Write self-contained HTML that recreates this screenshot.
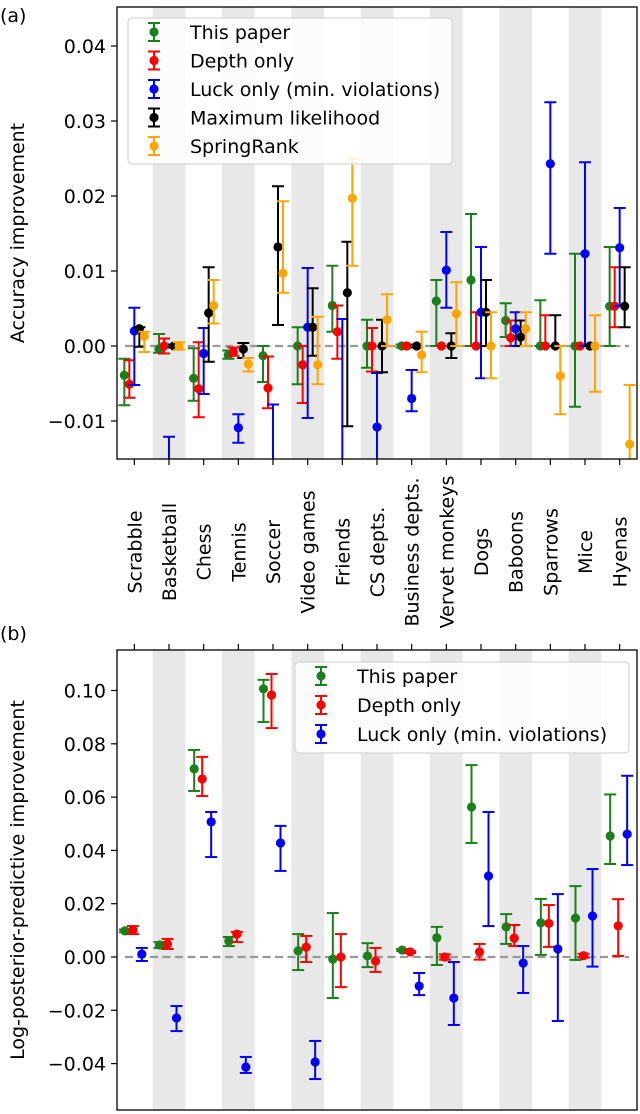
<!DOCTYPE html>
<html><head><meta charset="utf-8"><style>
html,body{margin:0;padding:0;background:#fff;}
svg{display:block;font-family:"DejaVu Sans","Liberation Sans",sans-serif;}
</style></head><body>
<svg id="chart" width="640" height="1114" viewBox="0 0 640 1114" xmlns="http://www.w3.org/2000/svg"></svg>
<script>
const categories = ["Scrabble","Basketball","Chess","Tennis","Soccer","Video games","Friends","CS depts.","Business depts.","Vervet monkeys","Dogs","Baboons","Sparrows","Mice","Hyenas"];
// Panel (a) accuracy improvement
const aTicks = [0.04,0.03,0.02,0.01,0.00,-0.01];
const aTickLabels = ["0.04","0.03","0.02","0.01","0.00","−0.01"];
const aGreenVal = [-0.0039,-0.0004,-0.0043,-0.0012,-0.0013,0.0,0.0054,0.0,0.0,0.0060,0.0088,0.0034,0.0,0.0,0.0053];
const aGreenHi  = [-0.0017,0.0016,-0.0003,-0.0006,0.0,0.0025,0.0107,0.0035,0.0002,0.0088,0.0176,0.0057,0.0061,0.0123,0.0132];
const aGreenLo  = [-0.0079,-0.0009,-0.0073,-0.0017,-0.0048,-0.0051,0.0019,-0.0029,-0.0002,0.0,0.0,0.0012,0.0,-0.0081,0.0];
const aRedVal = [-0.0051,0.0,-0.0057,-0.0008,-0.0056,-0.0025,0.0019,0.0,0.0,0.0,0.0,0.0011,0.0,0.0,0.0053];
const aRedHi  = [-0.0019,0.001,0.0005,-0.0002,-0.0014,0.0,0.0054,0.0024,0.0002,0.0,0.0045,0.0034,0.0041,0.0,0.0105];
const aRedLo  = [-0.0069,-0.001,-0.0095,-0.0013,-0.0083,-0.0076,-0.0017,-0.0034,-0.0002,0.0,0.0,0.0,0.0,0.0,0.0025];
const aBlueVal = [0.002,-0.02,-0.001,-0.0109,-0.018,0.0025,-0.016,-0.0108,-0.007,0.0101,0.0045,0.0023,0.0243,0.0123,0.0131];
const aBlueHi  = [0.0051,-0.0121,0.0024,-0.0091,-0.0078,0.0104,0.0036,-0.0036,-0.0032,0.0152,0.0132,0.0045,0.0325,0.0245,0.0184];
const aBlueLo  = [-0.0052,-0.028,-0.0064,-0.0129,-0.028,-0.0096,-0.036,-0.018,-0.0087,0.0051,-0.0043,0.0,0.0123,0.0,0.0053];
const aBlackVal = [0.0023,0.0,0.0044,-0.0004,0.0132,0.0025,0.0071,0.0,0.0,0.0,0.0045,0.0012,0.0,0.0,0.0053];
const aBlackHi  = [0.0025,0.0002,0.0105,0.0004,0.0213,0.0077,0.0139,0.0035,0.0002,0.0017,0.0088,0.0034,0.0041,0.0,0.0105];
const aBlackLo  = [-0.0001,-0.0002,-0.0021,-0.0016,0.0028,-0.0013,-0.0107,-0.0035,-0.0002,-0.0016,0.0,0.0,0.0,0.0,0.0025];
const aOrangeVal = [0.0013,0.0,0.0054,-0.0024,0.0097,-0.0025,0.0197,0.0035,-0.0012,0.0043,0.0,0.0023,-0.004,0.0,-0.0131];
const aOrangeHi  = [0.0019,0.0005,0.0088,-0.0016,0.0193,0.0039,0.025,0.0069,0.0019,0.0085,0.0045,0.0045,0.0,0.0041,-0.0052];
const aOrangeLo  = [-0.0008,-0.0005,0.003,-0.0034,0.0071,-0.0051,0.0107,0.0,-0.0035,0.0,-0.0043,0.0,-0.0091,-0.0061,-0.021];
// Panel (b) log-posterior-predictive improvement
const bTicks = [0.10,0.08,0.06,0.04,0.02,0.00,-0.02,-0.04];
const bTickLabels = ["0.10","0.08","0.06","0.04","0.02","0.00","−0.02","−0.04"];
const bGreenVal = [0.0098,0.0045,0.0706,0.0060,0.1006,0.0023,-0.0008,0.0004,0.0026,0.0072,0.0563,0.0113,0.0128,0.0146,0.0454];
const bGreenHi  = [0.0103,0.0056,0.0777,0.0075,0.104,0.0086,0.0165,0.0052,0.003,0.0113,0.072,0.0161,0.0218,0.0266,0.061];
const bGreenLo  = [0.0093,0.0034,0.0623,0.0041,0.0882,-0.0049,-0.0154,-0.0038,0.0022,-0.003,0.0428,0.0049,0.0008,-0.0011,0.0349];
const bRedVal = [0.0101,0.0049,0.0668,0.0086,0.0983,0.0037,0.0,-0.0015,0.0019,0.0,0.0019,0.0071,0.0126,0.0005,0.0117];
const bRedHi  = [0.0116,0.0068,0.0751,0.0094,0.1062,0.0079,0.0086,0.0034,0.0023,0.001,0.0049,0.012,0.0195,0.0012,0.0217];
const bRedLo  = [0.0086,0.003,0.0604,0.0056,0.0859,-0.0019,-0.0113,-0.0056,0.0015,-0.001,-0.001,0.0041,0.0038,-0.0002,0.0004];
const bBlueVal = [0.0011,-0.0229,0.0507,-0.0413,0.0428,-0.0394,null,null,-0.0109,-0.0154,0.0304,-0.0023,0.003,0.0154,0.0461];
const bBlueHi  = [0.0034,-0.0184,0.0544,-0.0375,0.0492,-0.0315,null,null,-0.006,-0.0019,0.0544,0.0041,0.0236,0.033,0.068];
const bBlueLo  = [-0.0015,-0.0278,0.0375,-0.0435,0.0323,-0.0458,null,null,-0.0143,-0.0255,0.0116,-0.0135,-0.024,-0.0036,0.0345];

const NS = "http://www.w3.org/2000/svg";
const svg = document.getElementById("chart");
function mk(tag, attrs, parent){ const e=document.createElementNS(NS,tag); for(const k in attrs) e.setAttribute(k,attrs[k]); (parent||svg).appendChild(e); return e; }

const FS = 19;
const X0=117, X1=637, STEP=(X1-X0)/15;
function xCat(i){ return X0 + STEP*(i+0.5); }

function panel(cfg){
  const g = mk("g",{});
  
  
  const y = v => cfg.zeroY - v*cfg.scale;
  const clipId = cfg.name+"-clip";
  const cp = mk("clipPath",{id:clipId},g);
  mk("rect",{x:X0,y:cfg.top,width:X1-X0,height:cfg.bottom-cfg.top},cp);
  for(let i=1;i<categories.length;i+=2){
    const r = mk("rect",{x:xCat(i)-STEP/2+1,y:cfg.top,width:STEP-2,height:cfg.bottom-cfg.top,fill:"#e8e8e8"},g);
    
    
  }
  const zl = mk("line",{x1:X0+8,x2:X1-8,y1:y(0),y2:y(0),stroke:"#999","stroke-width":2.2,"stroke-dasharray":"8,4.5"},g);
  
  
  const plot = mk("g",{"clip-path":"url(#"+clipId+")"},g);
  cfg.series.forEach(s=>{
    const sg = mk("g",{},plot);
    
    
    for(let i=0;i<categories.length;i++){
      if(s.val[i]===null) continue;
      const cx = xCat(i)+s.off;
      const pt = mk("g",{},sg);
      
      
      const yh=y(s.hi[i]), yl=y(s.lo[i]);
      mk("line",{x1:cx,x2:cx,y1:yh,y2:yl,stroke:s.color,"stroke-width":2},pt);
      mk("line",{x1:cx-6,x2:cx+6,y1:yh,y2:yh,stroke:s.color,"stroke-width":2},pt);
      mk("line",{x1:cx-6,x2:cx+6,y1:yl,y2:yl,stroke:s.color,"stroke-width":2},pt);
      mk("circle",{cx:cx,cy:y(s.val[i]),r:4.6,fill:s.color},pt);
    }
  });
  const fr = mk("rect",{x:X0,y:cfg.top,width:X1-X0,height:cfg.bottom-cfg.top,fill:"none",stroke:"#000","stroke-width":1.3},g);
  
  
  cfg.ticks.forEach((t,k)=>{
    mk("line",{x1:X0-6,x2:X0,y1:y(t),y2:y(t),stroke:"#000","stroke-width":1.2},g);
    const tx = mk("text",{x:X0-11,y:y(t)+7,"text-anchor":"end","font-size":FS,fill:"#000"},g);
    tx.textContent = cfg.tickLabels[k];
    
    
  });
  for(let i=0;i<categories.length;i++){
    if(cfg.xTickDown) mk("line",{x1:xCat(i),x2:xCat(i),y1:cfg.bottom,y2:cfg.bottom+6,stroke:"#000","stroke-width":1.2},g);
    else mk("line",{x1:xCat(i),x2:xCat(i),y1:cfg.top-6,y2:cfg.top,stroke:"#000","stroke-width":1.2},g);
  }
  const yt = mk("text",{x:0,y:0,"text-anchor":"middle","font-size":FS,transform:`translate(24,${(cfg.top+cfg.bottom)/2}) rotate(-90)`},g);
  yt.textContent = cfg.ytitle;
  
  
  const pl = mk("text",{x:0,y:cfg.labelY,"font-size":FS},g);
  pl.textContent = cfg.label;
  
  
  const lg = mk("g",{},g);
  
  
  const L = cfg.legend;
  mk("rect",{x:L.x,y:L.y,width:L.w,height:L.h,rx:4,fill:"rgba(255,255,255,0.85)",stroke:"#d6d6d6","stroke-width":1.2},lg);
  cfg.series.forEach((s,k)=>{
    const ry = L.y+L.first+k*L.gap;
    const e = mk("g",{},lg);
    
    
    mk("line",{x1:L.mx,x2:L.mx,y1:ry-9,y2:ry+9,stroke:s.color,"stroke-width":2},e);
    mk("line",{x1:L.mx-6,x2:L.mx+6,y1:ry-9,y2:ry-9,stroke:s.color,"stroke-width":2},e);
    mk("line",{x1:L.mx-6,x2:L.mx+6,y1:ry+9,y2:ry+9,stroke:s.color,"stroke-width":2},e);
    mk("circle",{cx:L.mx,cy:ry,r:4.6,fill:s.color},e);
    const t = mk("text",{x:L.tx,y:ry+7,"font-size":FS},e);
    t.textContent = s.label;
  });
}

panel({name:"panel-a",top:7,bottom:459,zeroY:346,scale:7500,ticks:aTicks,tickLabels:aTickLabels,xTickDown:true,
  ytitle:"Accuracy improvement",label:"(a)",labelY:22,
  legend:{x:128,y:18,w:324,h:146,first:14,gap:28.5,mx:154,tx:190},
  series:[
    {key:"this-paper",label:"This paper",color:"#1a801a",off:-10,val:aGreenVal,hi:aGreenHi,lo:aGreenLo},
    {key:"depth-only",label:"Depth only",color:"#ff0000",off:-5,val:aRedVal,hi:aRedHi,lo:aRedLo},
    {key:"luck-only",label:"Luck only (min. violations)",color:"#0000ff",off:0,val:aBlueVal,hi:aBlueHi,lo:aBlueLo},
    {key:"max-likelihood",label:"Maximum likelihood",color:"#000000",off:5,val:aBlackVal,hi:aBlackHi,lo:aBlackLo},
    {key:"springrank",label:"SpringRank",color:"#ffa500",off:10,val:aOrangeVal,hi:aOrangeHi,lo:aOrangeLo}
  ]});

panel({name:"panel-b",top:650,bottom:1110,zeroY:957,scale:2665,ticks:bTicks,tickLabels:bTickLabels,xTickDown:false,
  ytitle:"Log-posterior-predictive improvement",label:"(b)",labelY:640,
  legend:{x:295,y:662,w:334,h:91,first:14,gap:29,mx:321,tx:357},
  series:[
    {key:"this-paper",label:"This paper",color:"#1a801a",off:-9.5,val:bGreenVal,hi:bGreenHi,lo:bGreenLo},
    {key:"depth-only",label:"Depth only",color:"#ff0000",off:-1.5,val:bRedVal,hi:bRedHi,lo:bRedLo},
    {key:"luck-only",label:"Luck only (min. violations)",color:"#0000ff",off:7.5,val:bBlueVal,hi:bBlueHi,lo:bBlueLo}
  ]});

categories.forEach((c,i)=>{
  const t = mk("text",{x:0,y:0,"text-anchor":"middle","font-size":FS,transform:`translate(${xCat(i)+7},552) rotate(-90)`});
  t.textContent = c;
  
  
});
</script>
</body></html>
